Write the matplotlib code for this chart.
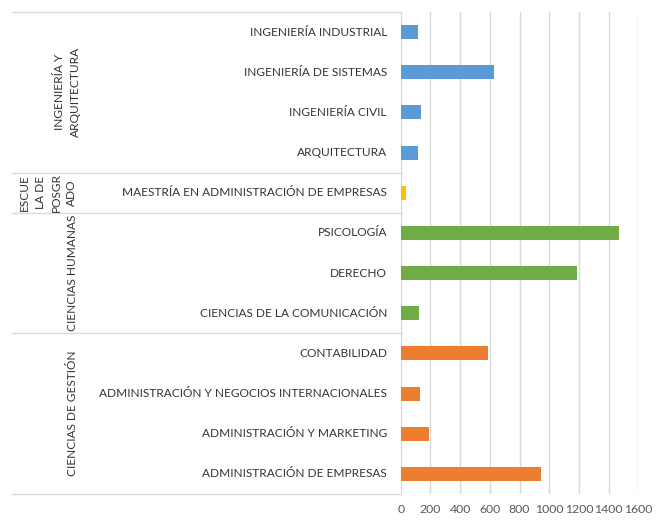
import matplotlib.pyplot as plt
from matplotlib.transforms import blended_transform_factory

# bottom-to-top order, as drawn
programs = [
    "ADMINISTRACIÓN DE EMPRESAS",
    "ADMINISTRACIÓN Y MARKETING",
    "ADMINISTRACIÓN Y NEGOCIOS INTERNACIONALES",
    "CONTABILIDAD",
    "CIENCIAS DE LA COMUNICACIÓN",
    "DERECHO",
    "PSICOLOGÍA",
    "MAESTRÍA EN ADMINISTRACIÓN DE EMPRESAS",
    "ARQUITECTURA",
    "INGENIERÍA CIVIL",
    "INGENIERÍA DE SISTEMAS",
    "INGENIERÍA INDUSTRIAL",
]
students = [945, 191, 130, 588, 123, 1187, 1470, 36, 114, 139, 626, 114]

faculties = ["CIENCIAS DE GESTIÓN", "CIENCIAS HUMANAS", "ESCUE\nLA DE\nPOSGR\nADO",
             "INGENIERÍA Y\nARQUITECTURA"]
faculty_sizes = [4, 3, 1, 4]
faculty_colors = ["#ED7D31", "#70AD47", "#FFC000", "#5B9BD5"]

plt.rcParams["font.family"] = ["Lato", "DejaVu Sans"]

W, H = 661, 520
fig = plt.figure(figsize=(W / 100, H / 100), dpi=100)
ax_l, ax_r, ax_t, ax_b = 400.7, 638.3, 12, 494
ax = fig.add_axes([ax_l / W, 1 - ax_b / H, (ax_r - ax_l) / W, (ax_b - ax_t) / H])

colors = []
for size, c in zip(faculty_sizes, faculty_colors):
    colors += [c] * size

ypos = list(range(len(programs)))
ax.barh(ypos, students, height=0.35, color=colors, zorder=3)

ax.set_xlim(0, 1600)
ax.set_ylim(-0.5, len(programs) - 0.5)
ax.set_xticks(range(0, 1601, 200))
ax.tick_params(axis="x", length=0, labelsize=8.8, colors="#595959", pad=7)
ax.set_yticks([])
ax.grid(axis="x", color="#D9D9D9", linewidth=1, zorder=0)
for s in ["top", "right", "bottom"]:
    ax.spines[s].set_visible(False)
ax.spines["left"].set_color("#D9D9D9")

# program labels
xt = (387 - ax_l) / (ax_r - ax_l)
trans = blended_transform_factory(ax.transAxes, ax.transData)
for y, name in zip(ypos, programs):
    ax.text(xt, y, name, transform=trans, ha="right", va="center",
            fontsize=8.6, color="#333333")

# faculty separators and labels
x_line0 = (12 - ax_l) / (ax_r - ax_l)
label_x = [73, 73, 48, 67]
start = -0.5
ax.plot([x_line0, 0], [start, start], transform=trans, color="#D9D9D9",
        lw=1, clip_on=False)
for fac, size, lx in zip(faculties, faculty_sizes, label_x):
    end = start + size
    ax.plot([x_line0, 0], [end, end], transform=trans, color="#D9D9D9",
            lw=1, clip_on=False)
    ax.text((lx - ax_l) / (ax_r - ax_l), (start + end) / 2, fac, transform=trans,
            rotation=90, ha="center", va="center", fontsize=8.6, color="#333333",
            multialignment="center", linespacing=1.55)
    start = end

fig.savefig("out.png", dpi=100)
